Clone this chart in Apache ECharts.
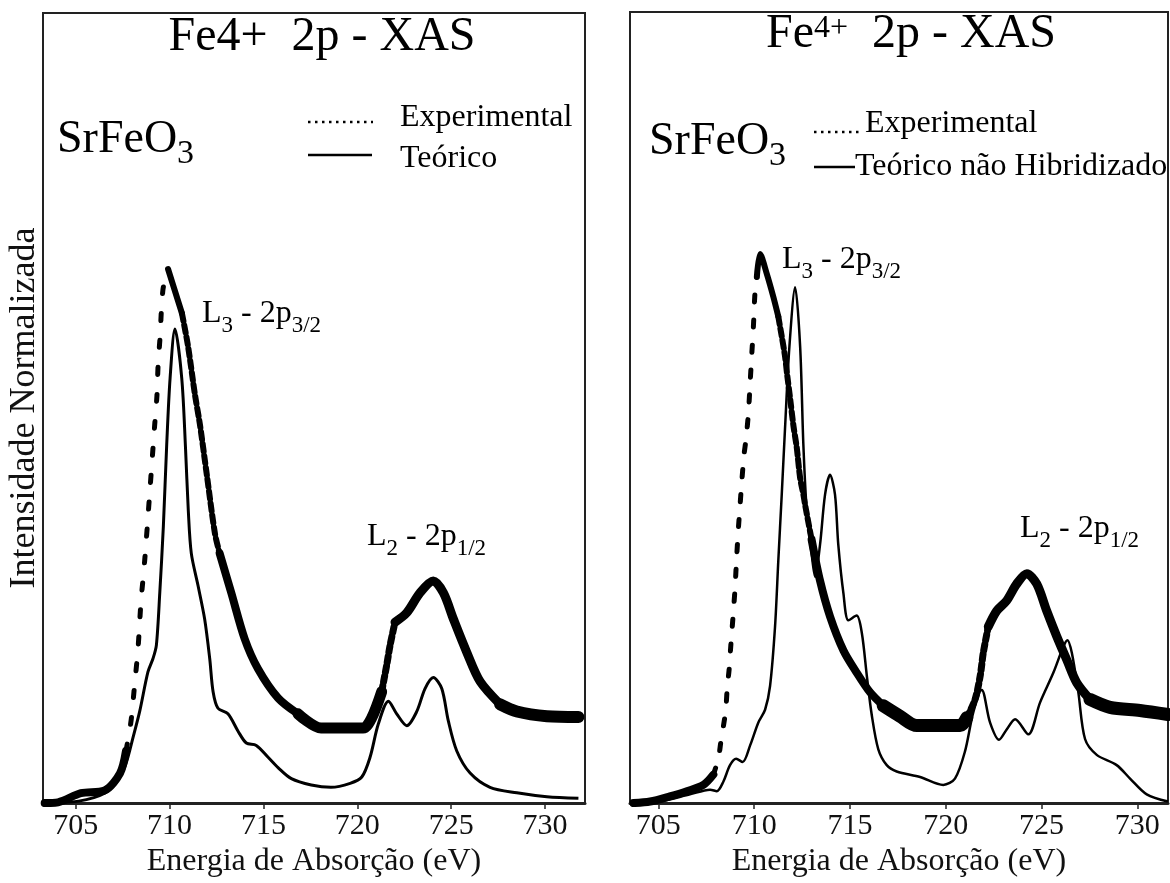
<!DOCTYPE html>
<html><head><meta charset="utf-8">
<script src="https://cdn.jsdelivr.net/npm/echarts@6/dist/echarts.min.js"></script>
<style>html,body{margin:0;padding:0;background:#fff}#c{width:1170px;height:883px}</style>
</head><body><div id="c"></div>
<script>
// ---- data (energy in eV, normalized intensity 0..100) ----
const xTicks = [705, 710, 715, 720, 725, 730];

const expLeft = [[703.35,0],[704.06,0.1],[705.28,1.25],[706.55,1.6],[707.36,3.75],[707.68,6.6],[707.95,10.4],[708.14,15],[708.32,19.5],[708.48,25.5],[708.68,30.8],[708.94,39.1],[709.21,47.9],[709.33,51.6],[709.39,55.4],[709.49,58.8],[709.65,65],[709.92,67.6],[710.66,62],[710.98,57.9],[711.36,51.6],[711.62,47.9],[712.0,41.3],[712.42,34.1],[712.67,31.6],[713.29,26.6],[714.0,20.8],[714.71,17],[715.78,13.3],[716.84,11.3],[718.07,9.5],[718.98,9.5],[720.31,9.5],[720.77,10.8],[721.3,14.1],[721.57,17.5],[721.75,20],[722.01,22.9],[722.64,24.1],[723.34,26.6],[724.05,28.1],[724.59,26.6],[725.12,23.3],[725.83,19.1],[726.54,15.4],[727.61,12.5],[728.5,11.6],[730.1,11],[731.78,10.9]];

const theoLeft = [[703.35,0],[705.16,0.25],[706.55,1.25],[707.25,2.9],[707.68,5],[708.05,8.25],[708.41,11.6],[708.85,16.6],[709.12,18.3],[709.3,20],[709.48,26.6],[709.67,35],[709.85,45.4],[710.03,53.8],[710.29,60],[710.65,53.8],[710.85,45],[711.0,37],[711.16,31.6],[711.52,27.5],[711.87,23.3],[712.14,18.3],[712.32,14.1],[712.58,12],[713.11,11.3],[713.65,9.1],[714.09,7.6],[714.62,7.3],[715.25,5.8],[715.78,4.5],[716.49,3.1],[717.55,2.3],[718.6,2],[719.62,2.5],[720.24,3.3],[720.68,5.8],[721.12,10],[721.66,12.9],[722.1,11.3],[722.64,9.8],[723.17,11.6],[723.61,14.5],[724.05,15.9],[724.5,14.5],[724.85,10.4],[725.3,6.6],[726.01,3.8],[727.07,2],[728.5,1.3],[730.1,0.8],[731.78,0.6]];

const expRight = [[703.7,0],[704.57,0.2],[705.6,0.85],[706.48,1.5],[707.35,2.3],[707.87,3.6],[708.13,5.6],[708.26,7.7],[708.4,9.8],[708.52,11.8],[708.6,14.8],[708.69,16.8],[708.79,20.2],[708.91,24],[709.0,27.1],[709.09,31.2],[709.18,34.8],[709.26,37.5],[709.35,40.5],[709.47,44],[709.58,46.1],[709.7,49.3],[709.79,53.1],[709.87,56.5],[709.96,60.2],[710.05,64.8],[710.14,66.5],[710.31,69.4],[710.66,66.9],[711.0,64],[711.26,61.5],[711.44,59],[711.61,56.5],[711.73,54],[711.87,51.3],[712.05,47.7],[712.22,45],[712.4,41.1],[712.57,39],[712.66,37.7],[713.0,33.3],[713.44,28.1],[713.96,23.6],[714.66,19.3],[715.35,16.5],[716.05,14],[716.74,12.3],[717.6,11],[718.49,9.8],[720.75,9.8],[721.1,10.8],[721.53,13.1],[721.8,16.1],[721.96,19],[722.22,22.3],[722.66,24.3],[723.18,25.6],[723.7,27.7],[724.23,29],[724.75,27.7],[725.27,24.3],[725.79,21.1],[726.32,18.1],[726.84,15.2],[727.53,13.1],[728.57,12.1],[730.14,11.7],[731.6,11.2]];

const theoRight = [[703.7,0],[705.09,0.2],[706.65,1.1],[707.7,1.7],[708.05,1.5],[708.39,2.7],[708.74,4.8],[709.06,5.6],[709.4,5.2],[709.79,7.3],[710.22,10.2],[710.57,11.8],[710.83,14.8],[711.09,22.3],[711.26,30.6],[711.44,39],[711.61,47.3],[711.84,57.7],[712.14,65.2],[712.4,57.7],[712.57,45.2],[712.75,36.8],[713.0,31.5],[713.18,28.6],[713.44,32.7],[713.7,39],[713.96,41.5],[714.22,39],[714.39,32.7],[714.66,26.5],[714.92,23.1],[715.35,23.7],[715.62,21.5],[715.88,16.1],[716.14,11.1],[716.48,6.8],[716.92,4.8],[717.44,4],[718.66,3.3],[719.87,2.3],[720.48,3.1],[721.0,6.5],[721.44,11.5],[721.88,14.3],[722.31,10.2],[722.78,8],[723.18,9.3],[723.62,10.6],[724.31,8.7],[724.92,12.7],[725.62,16.5],[726.14,19.8],[726.35,20.6],[726.58,19],[726.92,14],[727.27,8.1],[727.88,6.1],[728.92,4.8],[729.62,3.1],[730.49,1.1],[731.6,0.2]];

// ---- styling ----
const FONT = "'Liberation Serif','Times New Roman',serif";
const INK = '#000';

function seg(data, x0, x1) {
  return data.filter(p => p[0] >= x0 - 1e-9 && p[0] <= x1 + 1e-9);
}

// line-style pieces of the experimental curves (the scanned curve is dotted on steep edges)
const leftPieces = [
  [703.35, 707.68, {width: 8}],
  [707.68, 709.92, {width: 5, type: [7, 20]}],
  [709.92, 710.66, {width: 6}],
  [710.66, 712.67, {width: 6, type: [8, 4]}],
  [712.67, 716.84, {width: 8}],
  [716.84, 721.3, {width: 11}],
  [721.3, 722.01, {width: 7, type: [6, 4]}],
  [722.01, 727.61, {width: 9}],
  [727.61, 731.78, {width: 12}]
];
const rightPieces = [
  [703.7, 707.87, {width: 8}],
  [707.87, 710.14, {width: 5, type: [7, 18]}],
  [710.14, 711.26, {width: 6}],
  [711.26, 713.0, {width: 6, type: [8, 4]}],
  [713.0, 716.74, {width: 8}],
  [716.74, 721.1, {width: 13}],
  [721.1, 722.22, {width: 7, type: [6, 4]}],
  [722.22, 727.53, {width: 9}],
  [727.53, 731.6, {width: 13}]
];

function expSeries(data, pieces, idx) {
  return pieces.map(([a, b, ls]) => ({
    name: 'Experimental', type: 'line', xAxisIndex: idx, yAxisIndex: idx,
    data: seg(data, a, b), symbol: 'none', smooth: 0.3, silent: true,
    lineStyle: Object.assign({color: INK, cap: 'round', join: 'round', type: 'solid'}, ls)
  }));
}

function xAxisCfg(idx, min, max) {
  return {
    gridIndex: idx, type: 'value', min: min, max: max,
    axisLine: {show: true, onZero: false, lineStyle: {color: '#222', width: 3}},
    axisTick: {show: true, inside: false, length: 6, customValues: xTicks, lineStyle: {color: '#222', width: 1.5}},
    axisLabel: {customValues: xTicks, fontSize: 30, fontFamily: FONT, color: '#111', margin: 8},
    splitLine: {show: false},
    name: 'Energia de Absorção (eV)', nameLocation: 'middle', nameGap: 37,
    nameTextStyle: {fontSize: 32, fontFamily: FONT, color: '#111'}
  };
}
function yAxisCfg(idx, withName) {
  const c = {
    gridIndex: idx, type: 'value', min: 0, max: 100,
    axisLine: {show: false}, axisTick: {show: false}, axisLabel: {show: false}, splitLine: {show: false}
  };
  if (withName) {
    Object.assign(c, {
      name: 'Intensidade Normalizada', nameLocation: 'middle', nameRotate: 90, nameGap: 0,
      nameTextStyle: {fontSize: 36, fontFamily: FONT, color: '#111'}
    });
  }
  return c;
}

const rich = {
  m: {fontSize: 32, fontFamily: FONT, fill: INK},
  s: {fontSize: 23, fontFamily: FONT, fill: INK, padding: [24, 0, 0, 0]}
};
function txt(x, y, text, size, align) {
  return {type: 'text', x: x, y: y, z: 10, style: {text: text, fontSize: size, fontFamily: FONT, fill: INK, align: align || 'left', verticalAlign: 'middle'}};
}
function richTxt(x, y, text, r, align) {
  return {type: 'text', x: x, y: y, z: 10, style: {text: text, rich: r, fontFamily: FONT, fill: INK, align: align || 'left', verticalAlign: 'middle'}};
}
const srRich = {
  m: {fontSize: 46, fontFamily: FONT, fill: INK},
  s: {fontSize: 34, fontFamily: FONT, fill: INK, padding: [28, 0, 0, 0]}
};
const titleRich = {
  m: {fontSize: 48, fontFamily: FONT, fill: INK},
  p: {fontSize: 32, fontFamily: FONT, fill: INK, padding: [0, 0, 11, 0]}
};

const graphics = [
  // left panel
  txt(322, 37, 'Fe4+  2p - XAS', 48, 'center'),
  richTxt(57, 140, '{m|SrFeO}{s|3}', srRich),
  {type: 'line', z: 10, shape: {x1: 308, y1: 122, x2: 373, y2: 122}, style: {stroke: INK, lineWidth: 2.5, lineDash: [2.5, 4.5]}},
  txt(400, 118, 'Experimental', 32),
  {type: 'line', z: 10, shape: {x1: 308, y1: 155, x2: 372, y2: 155}, style: {stroke: INK, lineWidth: 2.5}},
  txt(400, 159, 'Teórico', 32),
  richTxt(202, 314, '{m|L}{s|3}{m| - 2p}{s|3/2}', rich),
  richTxt(367, 537, '{m|L}{s|2}{m| - 2p}{s|1/2}', rich),
  // right panel
  richTxt(911, 34, '{m|Fe}{p|4+}{m|  2p - XAS}', titleRich, 'center'),
  richTxt(649, 142, '{m|SrFeO}{s|3}', srRich),
  {type: 'line', z: 10, shape: {x1: 814, y1: 132, x2: 859, y2: 132}, style: {stroke: INK, lineWidth: 2.5, lineDash: [2.5, 4.5]}},
  txt(865, 124, 'Experimental', 32),
  {type: 'line', z: 10, shape: {x1: 814, y1: 167, x2: 855, y2: 167}, style: {stroke: INK, lineWidth: 2.5}},
  txt(855, 167, 'Teórico não Hibridizado', 32),
  richTxt(782, 260, '{m|L}{s|3}{m| - 2p}{s|3/2}', rich),
  richTxt(1020, 529, '{m|L}{s|2}{m| - 2p}{s|1/2}', rich)
];

const chart = echarts.init(document.getElementById('c'), null, {renderer: 'canvas'});
chart.setOption({
  animation: false,
  backgroundColor: '#fff',
  grid: [
    {left: 43, top: 13, width: 542, height: 800, show: true, borderColor: '#222', borderWidth: 2},
    {left: 630, top: 12, width: 538, height: 800, show: true, borderColor: '#222', borderWidth: 2}
  ],
  xAxis: [xAxisCfg(0, 703.26, 732.13), xAxisCfg(1, 703.52, 731.6)],
  yAxis: [yAxisCfg(0, true), yAxisCfg(1, false)],
  series: [].concat(
    expSeries(expLeft, leftPieces, 0),
    [{name: 'Teórico', type: 'line', xAxisIndex: 0, yAxisIndex: 0, data: theoLeft, symbol: 'none', smooth: 0.3,
      lineStyle: {color: INK, width: 3, join: 'round'}}],
    expSeries(expRight, rightPieces, 1),
    [{name: 'Teórico não Hibridizado', type: 'line', xAxisIndex: 1, yAxisIndex: 1, data: theoRight, symbol: 'none', smooth: 0.3,
      lineStyle: {color: INK, width: 2.5, join: 'round'}}]
  ),
  graphic: graphics
});
</script>
</body></html>
